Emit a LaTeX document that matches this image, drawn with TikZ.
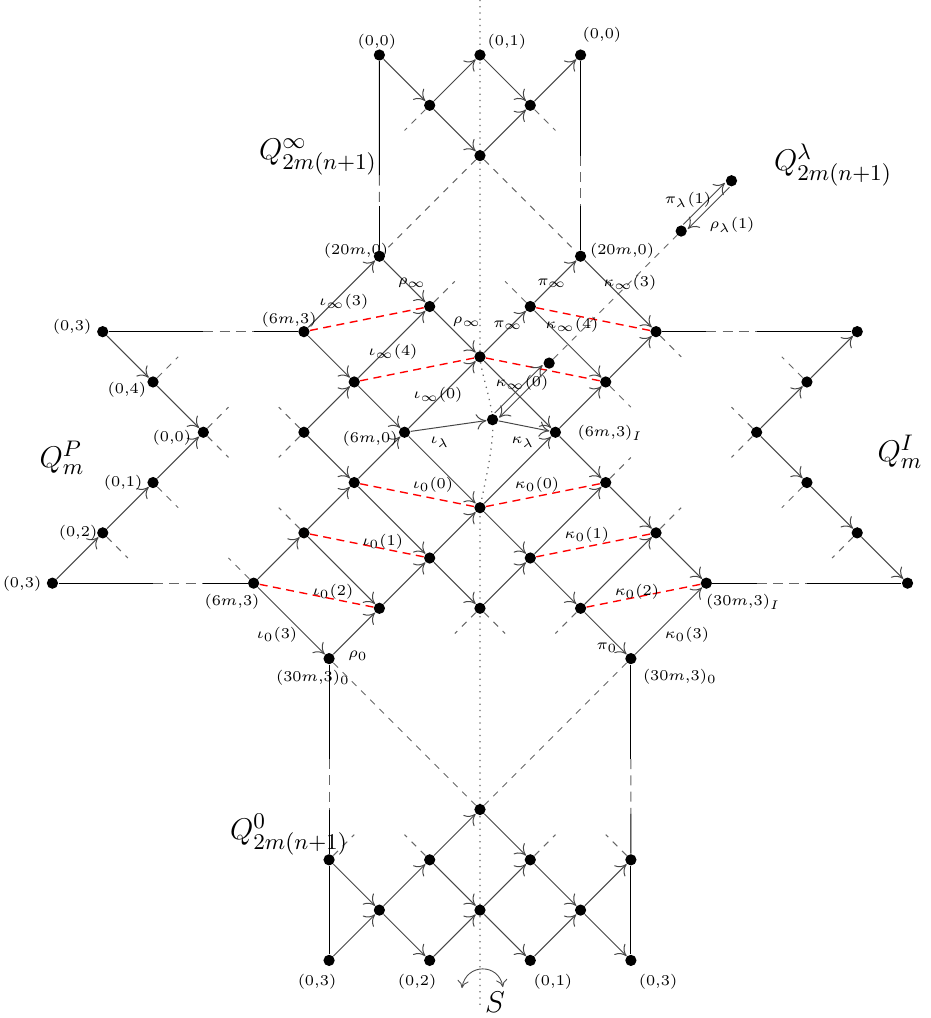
\documentclass[tikz,border=0pt]{standalone}
\usetikzlibrary{arrows.meta,calc}
\pgfdeclarelayer{bgl}
\pgfsetlayers{bgl,main}
\newcommand\gapln[5][]{%
  \draw[solidln] (#2) -- ($(#2)!#4!(#3)$);
  \draw[gapdash] ($(#2)!#4!(#3)$) -- ($(#2)!#5!(#3)$);
  \draw[solidln] ($(#2)!#5!(#3)$) -- (#3);}
\begin{document}
\begin{tikzpicture}[x={(10.06pt,0pt)},y={(0pt,-10.06pt)},
  dot/.style={circle,fill=black,inner sep=0pt,minimum size=4.5pt},
  arr/.style={draw=black!72,line width=0.4pt,-{To[length=4pt,width=6.2pt]}},
  solidln/.style={draw=black,line width=0.45pt},
  gapdash/.style={draw=black!60,line width=0.4pt,dash pattern=on 4pt off 2.5pt},
  stubln/.style={draw=black!60,line width=0.4pt,dash pattern=on 2.6pt off 2.6pt},
  longdash/.style={draw=black!60,line width=0.4pt,dash pattern=on 2.6pt off 2.6pt},
  reddash/.style={draw=red,line width=0.55pt,dash pattern=on 3.2pt off 2.2pt},
  lbl/.style={inner sep=0pt,font=\fontsize{5.8}{7}\selectfont},
  big/.style={inner sep=0pt,font=\fontsize{13}{15}\selectfont},
]
\useasboundingbox (-19.085,-2.187) rectangle (17.932,38.290);

% dots
\foreach \n/\x/\y in {t00L/-4/0, t01/0/0, t00R/4/0, t1/-2/2, t2/2/2, t3/0/4,
  A/-4/8, B/-2/10, C/0/12, D/2/10, E/4/8, F/-7/11, G/7/11, H/-5/13, I/5/13,
  J/-7/15, K/-3/15, L/3/15, M/-5/17, N/5/17, O/0/18, P/-7/19, Q/7/19,
  R/-9/21, S/-2/20, T/2/20, U/9/21, V/-4/22, W/0/22, X/4/22, Y/-6/24, Z/6/24,
  lamA/0.5/14.5, lamB/2.75/12.25, qlb/8/7, qlt/10/5,
  p03t/-15/11, p04/-13/13, p00/-11/15, p01/-13/17, p02/-15/19, p03b/-17/21,
  i0/15/11, i1/13/13, i2/11/15, i3/13/17, i4/15/19, i5/17/21,
  bt/0/30, b1/-6/32, b2/-2/32, b3/2/32, b4/6/32, b5/-4/34, b6/0/34, b7/4/34,
  b8/-6/36, b9/-2/36, b10/2/36, b11/6/36}
  \node[dot] (\n) at (\x,\y) {};

% dotted axis
\coordinate (axT) at (0,-2.19);
\coordinate (axB) at (0,37.97);
\begin{pgfonlayer}{bgl}
\draw[dotted,black!60,line width=0.5pt] (axT) -- (C.center)
  .. controls (0.05,12.7) and (0.45,13.7) .. (lamA.center)
  .. controls (0.58,15.4) and (0.2,17.0) .. (O.center) -- (axB);
\end{pgfonlayer}

% stubs
\foreach [count=\k] \n/\dx/\dy in {t1/-1/1, t2/1/1, B/1/-1, D/-1/-1, J/-1/-1, J/-1/1,
  P/-1/-1, R/-1/-1, W/-1/1, W/1/1, X/-1/1, Q/1/-1, N/1/-1, I/1/1, G/1/1,
  p04/1/-1, p00/1/-1, p00/1/1, p01/1/1, p02/1/1,
  i1/-1/-1, i2/-1/-1, i2/-1/1, i3/-1/1, i4/-1/1,
  b1/1/-1, b2/-1/-1, b3/1/-1, b4/-1/-1}
  {\coordinate (stub\k) at ($(\n)+(\dx,\dy)$);
   \draw[stubln] (\n) -- (stub\k);}

% long dashed
\foreach \a/\b in {t3/A, t3/E, Y/bt, Z/bt, lamB/qlb}
  \draw[longdash] (\a) -- (\b);

% lines with gaps
\gapln{t00L}{A}{0.6}{0.75}
\gapln{t00R}{E}{0.5}{0.75}
\gapln{p03t}{F}{0.5}{0.75}
\gapln{p03b}{R}{0.5}{0.75}
\gapln{G}{i0}{0.25}{0.5}
\gapln{U}{i5}{0.25}{0.5}
\gapln{Y}{b1}{0.5}{0.75}
\gapln{Z}{b4}{0.5}{0.77}
\draw[solidln] (b1) -- (b8);
\draw[solidln] (b4) -- (b11);

% red dashed
\foreach \a/\b in {F/B, H/C, M/O, P/S, R/V, D/G, C/I, O/N, T/Q, X/U}
  \draw[reddash] (\a) -- (\b);

% arrows
\foreach \a/\b in {t00L/t1, t1/t01, t1/t3, t01/t2, t3/t2, t2/t00R,
  F/A, A/B, B/C, F/H, H/B, H/K, J/H, K/C, K/lamA, lamA/L, C/D, D/E, E/G, D/I,
  I/G, C/L, L/I, L/N, J/M, M/K, K/O, M/S, O/L, O/T, P/M, P/V, S/O, S/W, V/S,
  R/P, R/Y, Y/V, T/N, T/X, W/T, N/Q, X/Q, Q/U, X/Z, Z/U,
  p03t/p04, p04/p00, p03b/p02, p02/p01, p01/p00,
  i2/i1, i1/i0, i2/i3, i3/i4, i4/i5,
  b1/b5, b8/b5, b5/b2, b5/b9, b2/bt, b2/b6, b9/b6, bt/b3, b6/b3, b6/b10,
  b3/b7, b10/b7, b7/b4, b7/b11}
  \draw[arr] (\a) -- (\b);

% double arrows
\draw[arr,transform canvas={shift={(-0.9pt,0.9pt)}}] (lamA) -- (lamB);
\draw[arr,transform canvas={shift={(0.9pt,-0.9pt)}}] (lamB) -- (lamA);
\draw[arr,transform canvas={shift={(-0.9pt,0.9pt)}}] (qlb) -- (qlt);
\draw[arr,transform canvas={shift={(0.9pt,-0.9pt)}}] (qlt) -- (qlb);

% S arc
\coordinate (sL) at (-0.72,37.1);
\coordinate (sR) at (0.91,37.06);
\draw[black!70,line width=0.35pt,{To[length=3pt,width=4.5pt]}-{To[length=3pt,width=4.5pt]}]
  (sL) .. controls (-0.55,36.1) and (0.75,36.1) .. (sR);

% labels
\node[lbl] (la1) at (-4.10,-0.52) {$(0{,}0)$};
\node[lbl] (la2) at (1.07,-0.52) {$(0{,}1)$};
\node[lbl] (la3) at (4.85,-0.80) {$(0{,}0)$};
\node[big] (qinf) at (-6.44,4.06) {$Q^{\infty}_{2m(n+1)}$};
\node[lbl] (la4) at (-4.93,7.79) {$(20m{,}0)$};
\node[lbl] (la5) at (5.65,7.79) {$(20m{,}0)$};
\node[lbl] (la6) at (-16.22,10.82) {$(0{,}3)$};
\node[lbl] (la7) at (-7.59,10.54) {$(6m{,}3)$};
\node[lbl] (la8) at (-5.41,9.82) {$\iota_\infty(3)$};
\node[lbl] (la9) at (-2.70,9.07) {$\rho_\infty$};
\node[lbl] (la10) at (-0.52,10.62) {$\rho_\infty$};
\node[lbl] (la11) at (-3.46,11.81) {$\iota_\infty(4)$};
\node[lbl] (la12) at (-1.67,13.52) {$\iota_\infty(0)$};
\node[lbl] (la13) at (-4.37,15.27) {$(6m{,}0)$};
\node[lbl] (la14) at (-1.59,15.39) {$\iota_\lambda$};
\node[lbl] (la15) at (1.71,15.39) {$\kappa_\lambda$};
\node[lbl] (la16) at (1.67,13.04) {$\kappa_\infty(0)$};
\node[lbl] (la17) at (5.17,15.03) {$(6m{,}3)_I$};
\node[lbl] (la18) at (2.86,9.07) {$\pi_\infty$};
\node[lbl] (la19) at (1.11,10.74) {$\pi_\infty$};
\node[lbl] (la20) at (5.96,9.07) {$\kappa_\infty(3)$};
\node[lbl] (la21) at (3.66,10.74) {$\kappa_\infty(4)$};
\node[big] (qlam) at (14.04,4.37) {$Q^{\lambda}_{2m(n+1)}$};
\node[lbl] (la22) at (8.27,5.77) {$\pi_\lambda(1)$};
\node[lbl] (la23) at (10.02,6.76) {$\rho_\lambda(1)$};
\node[big] (qp) at (-16.62,16.02) {$Q^P_m$};
\node[lbl] (la24) at (-14.04,13.32) {$(0{,}4)$};
\node[lbl] (la25) at (-12.25,15.23) {$(0{,}0)$};
\node[lbl] (la26) at (-14.19,17.02) {$(0{,}1)$};
\node[lbl] (la27) at (-15.98,19.01) {$(0{,}2)$};
\node[lbl] (la28) at (-18.21,21.03) {$(0{,}3)$};
\node[lbl] (la29) at (-9.86,21.75) {$(6m{,}3)$};
\node[big] (qi) at (16.70,15.79) {$Q^I_m$};
\node[lbl] (la30) at (10.46,21.75) {$(30m{,}3)_I$};
\node[lbl] (la31) at (-1.87,17.10) {$\iota_0(0)$};
\node[lbl] (la32) at (-3.86,19.36) {$\iota_0(1)$};
\node[lbl] (la33) at (-5.84,21.35) {$\iota_0(2)$};
\node[lbl] (la34) at (-8.07,23.06) {$\iota_0(3)$};
\node[lbl] (la35) at (-4.85,23.90) {$\rho_0$};
\node[lbl] (la36) at (-6.64,24.77) {$(30m{,}3)_0$};
\node[lbl] (la37) at (2.27,17.10) {$\kappa_0(0)$};
\node[lbl] (la38) at (4.25,19.09) {$\kappa_0(1)$};
\node[lbl] (la39) at (6.24,21.35) {$\kappa_0(2)$};
\node[lbl] (la40) at (8.23,23.06) {$\kappa_0(3)$};
\node[lbl] (la41) at (5.05,23.58) {$\pi_0$};
\node[lbl] (la42) at (7.95,24.73) {$(30m{,}3)_0$};
\node[big] (q0) at (-7.59,31.01) {$Q^0_{2m(n+1)}$};
\node[lbl] (la43) at (-6.48,36.86) {$(0{,}3)$};
\node[lbl] (la44) at (-2.50,36.86) {$(0{,}2)$};
\node[lbl] (la45) at (2.90,36.86) {$(0{,}1)$};
\node[lbl] (la46) at (7.08,36.86) {$(0{,}3)$};
\node[big] (lS) at (0.60,37.65) {$S$};
\end{tikzpicture}
\end{document}
